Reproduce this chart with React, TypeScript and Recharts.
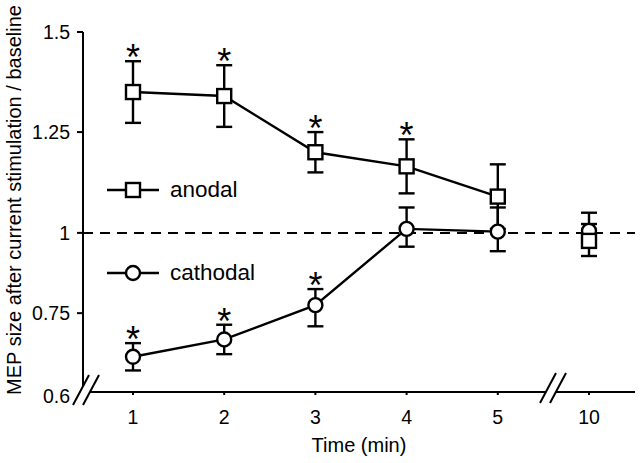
import React from "react";
import { LineChart, Line, XAxis, YAxis, ErrorBar, ReferenceLine, Legend } from "recharts";

const times = ["1", "2", "3", "4", "5", "10"];
// the 10 min point sits after the axis break and is not joined to the others
const afterBreak = [false, false, false, false, false, true];

const anodalMean = [1.35, 1.34, 1.2, 1.165, 1.09, 0.975];
const anodalErr = [0.077, 0.077, 0.05, 0.067, 0.08, 0.047];
const anodalSig = [true, true, true, true, false, false];

const cathodalMean = [0.667, 0.7, 0.775, 1.01, 1.003, 1.005];
const cathodalErr = [0.026, 0.028, 0.05, 0.053, 0.06, 0.045];
const cathodalSig = [true, true, true, false, false, false];

const yTicks = [0.6, 0.75, 1, 1.25, 1.5];
// the printed y axis is not linear: where each tick sits (0 = bottom, 1 = top)
const yTickPlace = [0, 0.219, 0.442, 0.722, 1];

const yTitle = "MEP size after current stimulation / baseline";
const xTitle = "Time (min)";

const FONT = '"Liberation Sans", Arial, sans-serif';
const STAR = 36;
const LW = 2.4;

const rows = times.map((t, i) => {
  const late = afterBreak[i];
  return {
    time: t,
    anodal: late ? null : anodalMean[i],
    anodalErr: late ? null : anodalErr[i],
    anodalLate: late ? anodalMean[i] : null,
    anodalLateErr: late ? anodalErr[i] : null,
    anodalStar: anodalSig[i] ? anodalMean[i] + anodalErr[i] : null,
    cathodal: late ? null : cathodalMean[i],
    cathodalErr: late ? null : cathodalErr[i],
    cathodalLate: late ? cathodalMean[i] : null,
    cathodalLateErr: late ? cathodalErr[i] : null,
    cathodalStar: cathodalSig[i] ? cathodalMean[i] + cathodalErr[i] : null,
  };
});

// piecewise linear scale through the tick positions, d3-like interface
function brokenScale(knots: number[], place: number[]): any {
  let domain: number[] = [knots[0], knots[knots.length - 1]];
  let range: number[] = [0, 1];
  const scale: any = (v: number) => {
    if (v == null || isNaN(v)) return NaN;
    let i = 0;
    while (i < knots.length - 2 && v > knots[i + 1]) i++;
    const t = (v - knots[i]) / (knots[i + 1] - knots[i]);
    const f = place[i] + t * (place[i + 1] - place[i]);
    return range[0] + f * (range[range.length - 1] - range[0]);
  };
  scale.domain = (d?: number[]) => {
    if (d === undefined) return domain;
    domain = d;
    return scale;
  };
  scale.range = (r?: number[]) => {
    if (r === undefined) return range;
    range = r;
    return scale;
  };
  scale.copy = () => brokenScale(knots, place).domain(domain).range(range);
  scale.ticks = () => knots;
  scale.tickFormat = () => (v: number) => String(v);
  return scale;
}

const yScale = brokenScale(yTicks, yTickPlace);

const Y_TICK_SIZE = 6;
const Y_TICK_MARGIN = 7;

const renderYTick = (props: any) => {
  const { x, y, payload } = props;
  const atBreak = payload.value === yTicks[0];
  return (
    <g>
      {!atBreak && (
        <line
          x1={x + Y_TICK_MARGIN}
          x2={x + Y_TICK_MARGIN + Y_TICK_SIZE}
          y1={y}
          y2={y}
          stroke="#000"
          strokeWidth={2}
        />
      )}
      <text x={x} y={y + (atBreak ? 4 : 0)} dy="0.36em" textAnchor="end" fontSize={19.5} fill="#000">
        {payload.value}
      </text>
    </g>
  );
};

const renderYTitle = (props: any) => {
  const vb = props.viewBox || {};
  const cx = (vb.x ?? 0) + 21;
  const cy = (vb.y ?? 0) + (vb.height ?? 0) / 2 - 12;
  return (
    <text x={cx} y={cy} transform={`rotate(-90 ${cx} ${cy})`} textAnchor="middle" fontSize={20} fill="#000">
      {yTitle}
    </text>
  );
};

const SquareDot = (p: any) => {
  if (p.value == null || p.cy == null) return <g key={p.key ?? p.index} />;
  return (
    <rect
      key={p.key ?? p.index}
      x={p.cx - 7}
      y={p.cy - 7}
      width={14}
      height={14}
      fill="#fff"
      stroke="#000"
      strokeWidth={LW}
    />
  );
};

const StarDot = (p: any) => {
  if (p.value == null || p.cy == null) return <g key={p.key ?? p.index} />;
  return (
    <text key={p.key ?? p.index} x={p.cx} y={p.cy - 11.5 + 0.57 * STAR} textAnchor="middle" fontSize={STAR} fill="#000">
      *
    </text>
  );
};

const circleDot = { r: 7, fill: "#fff", stroke: "#000", strokeWidth: LW };

const legendOrder = ["anodal", "cathodal"];

const renderLegend = (props: any) => {
  const items = (props.payload || [])
    .filter((p: any) => legendOrder.includes(p.value))
    .sort((a: any, b: any) => legendOrder.indexOf(a.value) - legendOrder.indexOf(b.value));
  return (
    <svg width={180} height={115} style={{ display: "block" }}>
      {items.map((item: any, i: number) => {
        const cy = 20 + i * 83;
        return (
          <g key={item.value}>
            <line x1={7} x2={59} y1={cy} y2={cy} stroke="#000" strokeWidth={LW} />
            {item.type === "square" ? (
              <rect x={26} y={cy - 7} width={14} height={14} fill="#fff" stroke="#000" strokeWidth={LW} />
            ) : (
              <circle cx={33} cy={cy} r={7} fill="#fff" stroke="#000" strokeWidth={LW} />
            )}
            <text x={70} y={cy + 7} fontSize={22.5} fill="#000" fontFamily={FONT}>
              {item.value}
            </text>
          </g>
        );
      })}
    </svg>
  );
};

const AxisBreak = ({ cx, cy }: { cx: number; cy: number }) => (
  <g>
    <polygon
      points={`${cx - 13},${cy + 15} ${cx + 3},${cy - 15} ${cx + 13},${cy - 15} ${cx - 3},${cy + 15}`}
      fill="#fff"
    />
    <line x1={cx - 13} y1={cy + 15} x2={cx + 3} y2={cy - 15} stroke="#000" strokeWidth={2} />
    <line x1={cx - 3} y1={cy + 15} x2={cx + 13} y2={cy - 15} stroke="#000" strokeWidth={2} />
  </g>
);

export default function App() {
  return (
    <div style={{ position: "absolute", left: 0, top: 0, width: 640, height: 463, fontFamily: FONT, background: "#fff" }}>
      <LineChart width={640} height={463} data={rows} margin={{ top: 32, right: 5, bottom: 0, left: 0 }}>
        <XAxis
          dataKey="time"
          type="category"
          height={71}
          padding={{ left: 50, right: 46 }}
          axisLine={{ stroke: "#000", strokeWidth: 2 }}
          tickLine={{ stroke: "#000", strokeWidth: 2 }}
          tickSize={3}
          tickMargin={15}
          tick={{ fill: "#000", fontSize: 19.5 }}
          label={{ value: xTitle, position: "insideBottom", offset: 11, fill: "#000", fontSize: 20 }}
        />
        <YAxis
          type="number"
          width={83}
          domain={[yTicks[0], yTicks[yTicks.length - 1]]}
          scale={yScale}
          ticks={yTicks}
          interval={0}
          axisLine={{ stroke: "#000", strokeWidth: 2 }}
          tickLine={false}
          tickSize={Y_TICK_SIZE}
          tickMargin={Y_TICK_MARGIN}
          tick={renderYTick}
          label={{ value: yTitle, content: renderYTitle }}
        />
        <ReferenceLine y={1} stroke="#000" strokeWidth={2} strokeDasharray="10 7" />
        <Legend
          layout="vertical"
          align="center"
          verticalAlign="middle"
          content={renderLegend}
          wrapperStyle={{ left: 100, top: 170, width: 180, height: 115 }}
        />

        <Line dataKey="cathodal" name="cathodal" legendType="circle" stroke="#000" strokeWidth={LW} dot={circleDot} activeDot={false} isAnimationActive={false}>
          <ErrorBar dataKey="cathodalErr" width={8} strokeWidth={LW} stroke="#000" direction="y" />
        </Line>
        <Line dataKey="cathodalLate" name="cathodal 10" legendType="none" stroke="none" dot={circleDot} activeDot={false} isAnimationActive={false}>
          <ErrorBar dataKey="cathodalLateErr" width={8} strokeWidth={LW} stroke="#000" direction="y" />
        </Line>
        <Line dataKey="cathodalStar" legendType="none" stroke="none" dot={StarDot} activeDot={false} isAnimationActive={false} />

        <Line dataKey="anodal" name="anodal" legendType="square" stroke="#000" strokeWidth={LW} dot={SquareDot} activeDot={false} isAnimationActive={false}>
          <ErrorBar dataKey="anodalErr" width={8} strokeWidth={LW} stroke="#000" direction="y" />
        </Line>
        <Line dataKey="anodalLate" name="anodal 10" legendType="none" stroke="none" dot={SquareDot} activeDot={false} isAnimationActive={false}>
          <ErrorBar dataKey="anodalLateErr" width={8} strokeWidth={LW} stroke="#000" direction="y" />
        </Line>
        <Line dataKey="anodalStar" legendType="none" stroke="none" dot={StarDot} activeDot={false} isAnimationActive={false} />
      </LineChart>
      <svg width={640} height={463} style={{ position: "absolute", left: 0, top: 0, pointerEvents: "none" }}>
        <AxisBreak cx={86} cy={390} />
        <AxisBreak cx={553} cy={388} />
      </svg>
    </div>
  );
}
